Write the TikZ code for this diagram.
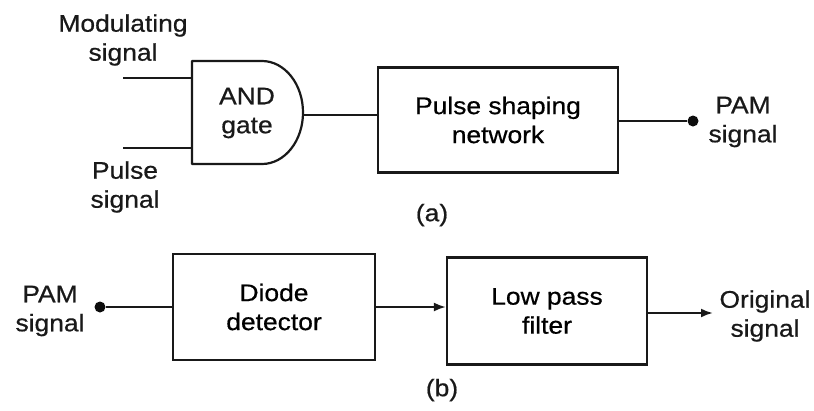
\documentclass[tikz,border=0pt]{standalone}
\usepackage{fontspec}
\setmainfont[FakeStretch=1.1,FakeBold=0.6]{Liberation Sans}
\usetikzlibrary{arrows.meta}

\tikzset{
  wire/.style={line width=2.2pt, draw=black!90},
  arr/.style={wire, -{Latex[length=12pt,width=9pt]}},
  blockbox/.style={draw=black!90, line width=2.2pt, rectangle, align=center,
    inner sep=0pt},
  lbl/.style={align=center, inner sep=0pt, text=black!90},
  dotnode/.style={circle, fill=black!95, inner sep=0pt, minimum size=11pt},
}

\begin{document}
\begin{tikzpicture}[x=1pt, y=-1pt]
  \useasboundingbox[fill=white] (0,0) rectangle (814,410);
  \fontsize{24}{29}\selectfont

  % ---------- (a) PAM generator ----------
  % AND gate body: flat back, half-elliptic front
  \draw[wire, line join=round] (192,61) -- (262,61)
    arc[start angle=-90, end angle=90, x radius=41, y radius=51.5]
    -- (192,164) -- cycle;
  \node[lbl] (andtxt) at (247,113) {AND\\gate};
  \coordinate (gin1) at (192,78);
  \coordinate (gin2) at (192,148);
  \coordinate (gout) at (303,115);
  \coordinate (modend) at (123,78);
  \coordinate (pulend) at (123,148);

  \node[lbl] (modlbl) at (123,40) {Modulating\\signal};
  \node[lbl] (pullbl) at (125,187) {Pulse\\signal};

  \draw[wire] (modend) -- (gin1);
  \draw[wire] (pulend) -- (gin2);

  \node[blockbox, minimum width=240pt, minimum height=105pt] (psn)
    at (498,120) {Pulse shaping\\network};
  \draw[wire] (gout) -- (psn.west |- gout);

  \node[dotnode] (pamout) at (693,121) {};
  \draw[wire] (psn.east |- pamout) -- (pamout);
  \node[lbl] (pamlblA) at (743,122) {PAM\\signal};

  \node[lbl] (capa) at (432,215) {(a)};

  % ---------- (b) PAM demodulator ----------
  \node[lbl] (pamlblB) at (50,311) {PAM\\signal};
  \node[dotnode] (pamin) at (100,307) {};

  \node[blockbox, minimum width=202pt, minimum height=106pt] (diode)
    at (274,307) {Diode\\detector};
  \node[blockbox, minimum width=200pt, minimum height=107pt] (lpf)
    at (547,311) {Low pass\\filter};

  \draw[wire] (pamin) -- (diode.west |- pamin);
  \draw[arr] (diode.east) -- (diode.east -| lpf.west);

  \coordinate (origend) at (713,313);
  \draw[arr] (lpf.east |- origend) -- (origend);
  \node[lbl] (origlbl) at (765,316) {Original\\signal};

  \node[lbl] (capb) at (442,390) {(b)};
\end{tikzpicture}
\end{document}
